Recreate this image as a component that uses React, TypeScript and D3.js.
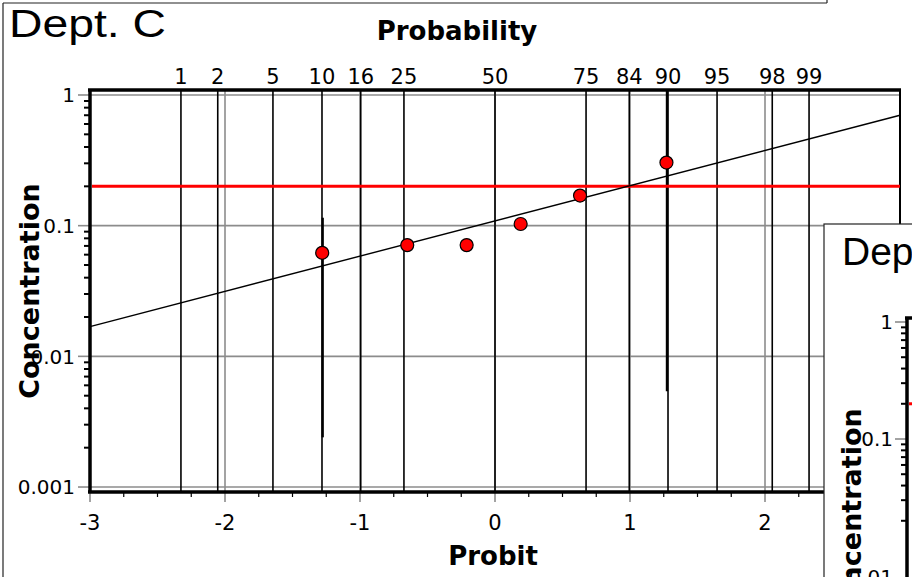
import * as d3 from 'd3';

// probability labels along the top (percent)
const probLabels = [1, 2, 5, 10, 16, 25, 50, 75, 84, 90, 95, 98, 99];
const probitTicks = [-3, -2, -1, 0, 1, 2];
const concTicks = [1, 0.1, 0.01, 0.001];
const concTickLabels = ['1', '0.1', '0.01', '0.001'];

// measured points (probit, concentration)
const pointProbit = [-1.28, -0.65, -0.21, 0.19, 0.63, 1.27];
const pointConc = [0.062, 0.071, 0.071, 0.103, 0.17, 0.304];

// fitted line end points
const fitProbit = [-3, 3];
const fitConc = [0.0169, 0.7];

// interval bars on the outer points
const barProbit = [-1.28, 1.27];
const barLow = [0.0024, 0.0054];
const barHigh = [0.115, 1.09];

const limitConc = 0.2;

// second (overlapping) panel
const panel2Ticks = [1, 0.1];
const panel2Labels = ['1', '0.1'];

const W = 912;
const H = 577;
const FONT = '"DejaVu Sans", Verdana, sans-serif';
const TITLE_FONT = '"Liberation Sans", Arial, sans-serif';

// inverse normal CDF (Acklam) for the probability axis
function probit(p: number) {
  const a = [-39.69683028665376, 220.9460984245205, -275.9285104469687, 138.357751867269, -30.66479806614716, 2.506628277459239];
  const b = [-54.47609879822406, 161.5858368580409, -155.6989798598866, 66.80131188771972, -13.28068155288572];
  const c = [-0.007784894002430293, -0.3223964580411365, -2.400758277161838, -2.549732539343734, 4.374664141464968, 2.938163982698783];
  const d = [0.007784695709041462, 0.3224671290700398, 2.445134137142996, 3.754408661907416];
  const pl = 0.02425;
  if (p < pl) {
    const q = Math.sqrt(-2 * Math.log(p));
    return (((((c[0] * q + c[1]) * q + c[2]) * q + c[3]) * q + c[4]) * q + c[5]) / ((((d[0] * q + d[1]) * q + d[2]) * q + d[3]) * q + 1);
  }
  if (p > 1 - pl) {
    const q = Math.sqrt(-2 * Math.log(1 - p));
    return -(((((c[0] * q + c[1]) * q + c[2]) * q + c[3]) * q + c[4]) * q + c[5]) / ((((d[0] * q + d[1]) * q + d[2]) * q + d[3]) * q + 1);
  }
  const q = p - 0.5;
  const r = q * q;
  return (((((a[0] * r + a[1]) * r + a[2]) * r + a[3]) * r + a[4]) * r + a[5]) * q / (((((b[0] * r + b[1]) * r + b[2]) * r + b[3]) * r + b[4]) * r + 1);
}

export default function App() {
  const left = 90, right = 900, top = 90, bottom = 492;
  const x = d3.scaleLinear().domain([-3, 3]).range([left, right]);
  const y = d3.scaleLog().domain([0.000916, 1.092]).range([bottom, top]);

  const minorY: number[] = [];
  [0.001, 0.01, 0.1].forEach(dec => {
    for (let k = 2; k <= 9; k++) minorY.push(dec * k);
  });
  const minorX = d3.range(-3, 3.001, 0.25).filter(v => Math.abs(v - Math.round(v)) > 0.01);

  const fitLine = d3.line<number>()
    .x((_, i) => x(fitProbit[i]))
    .y(d => y(d));

  // panel 2 scale
  const y2 = d3.scaleLog().domain([0.1, 1]).range([439, 322]);
  const minorY2: number[] = [];
  [0.01, 0.1].forEach(dec => {
    for (let k = 2; k <= 9; k++) minorY2.push(dec * k);
  });

  return (
    <svg width={W} height={H} style={{ position: 'absolute', left: 0, top: 0, background: '#fff' }}>
      <rect x={0} y={0} width={W} height={H} fill="#fff" />
      {/* outer frame */}
      <line x1={3} y1={3} x2={827} y2={3} stroke="#222" strokeWidth={1.2} />
      <line x1={3} y1={3} x2={3} y2={H} stroke="#222" strokeWidth={1.2} />
      <line x1={827} y1={0} x2={827} y2={3} stroke="#222" strokeWidth={1.2} />

      <text x={9} y={37} fontFamily={TITLE_FONT} fontSize={39} textLength={157} lengthAdjust="spacingAndGlyphs" fill="#000">Dept. C</text>
      <text x={457} y={40} textAnchor="middle" fontFamily={FONT} fontSize={26} fontWeight="bold" fill="#000">Probability</text>

      {/* gray grid */}
      {concTicks.map(v => (
        <line key={'gy' + v} x1={left} x2={right} y1={y(v)} y2={y(v)} stroke="#8c8c8c" strokeWidth={1.6} />
      ))}
      {probitTicks.concat([3]).map(v => (
        <line key={'gx' + v} x1={x(v)} x2={x(v)} y1={top} y2={bottom} stroke="#8c8c8c" strokeWidth={1.6} />
      ))}

      {/* probability lines */}
      {probLabels.map(p => (
        <line key={'pl' + p} x1={x(probit(p / 100))} x2={x(probit(p / 100))} y1={top} y2={bottom} stroke="#000" strokeWidth={1.6} />
      ))}
      {probLabels.map(p => (
        <text key={'pt' + p} x={x(probit(p / 100))} y={84} textAnchor="middle" fontFamily={FONT} fontSize={21} fill="#000">{p}</text>
      ))}

      {/* interval bars */}
      {barProbit.map((v, i) => (
        <line key={'bar' + i} x1={x(v) + 0.5} x2={x(v) + 0.5} y1={y(barHigh[i])} y2={y(barLow[i])} stroke="#000" strokeWidth={2.3} />
      ))}

      {/* y axis ticks */}
      {concTicks.map(v => (
        <line key={'ty' + v} x1={78} x2={left} y1={y(v)} y2={y(v)} stroke="#8c8c8c" strokeWidth={1.6} />
      ))}
      {minorY.map(v => (
        <line key={'my' + v} x1={84} x2={left} y1={y(v)} y2={y(v)} stroke="#000" strokeWidth={2} />
      ))}
      {concTicks.map((v, i) => (
        <text key={'ly' + v} x={75} y={y(v)} dy="0.36em" textAnchor="end" fontFamily={FONT} fontSize={20} fill="#000">{concTickLabels[i]}</text>
      ))}

      {/* x axis ticks */}
      {probitTicks.concat([3]).map(v => (
        <line key={'tx' + v} x1={x(v)} x2={x(v)} y1={bottom} y2={502} stroke="#8c8c8c" strokeWidth={1.6} />
      ))}
      {minorX.map(v => (
        <line key={'mx' + v} x1={x(v)} x2={x(v)} y1={bottom} y2={497} stroke="#000" strokeWidth={1.2} />
      ))}
      {probitTicks.map(v => (
        <text key={'lx' + v} x={x(v)} y={530} textAnchor="middle" fontFamily={FONT} fontSize={21} fill="#000">{v < 0 ? '-' + Math.abs(v) : v}</text>
      ))}

      {/* frame */}
      <line x1={left - 2} x2={right + 1} y1={top} y2={top} stroke="#000" strokeWidth={3.5} />
      <line x1={left} x2={left} y1={top} y2={bottom} stroke="#000" strokeWidth={3.5} />
      <line x1={left - 2} x2={right + 1} y1={bottom} y2={bottom} stroke="#000" strokeWidth={3.5} />
      <line x1={right} x2={right} y1={top} y2={bottom} stroke="#000" strokeWidth={2} />

      {/* limit line */}
      <line x1={left + 2} x2={right} y1={y(limitConc)} y2={y(limitConc)} stroke="#ff0000" strokeWidth={3} />

      {/* fit line */}
      <path d={fitLine(fitConc) || ''} fill="none" stroke="#000" strokeWidth={1.4} />

      {/* points */}
      {pointProbit.map((v, i) => (
        <circle key={'pt' + i} cx={x(v)} cy={y(pointConc[i])} r={6.5} fill="#ff0000" stroke="#000" strokeWidth={1.2} />
      ))}

      <text transform={`translate(39,291) rotate(-90)`} textAnchor="middle" fontFamily={FONT} fontSize={27} fontWeight="bold" fill="#000">Concentration</text>
      <text x={493} y={565} textAnchor="middle" fontFamily={FONT} fontSize={26} fontWeight="bold" fill="#000">Probit</text>

      {/* overlapping second panel */}
      <rect x={824} y={224} width={W} height={H} fill="#fff" stroke="#222" strokeWidth={1.2} />
      <text x={842} y={265} fontFamily={TITLE_FONT} fontSize={39} fill="#000">Dep</text>
      {panel2Ticks.map(v => (
        <line key={'t2' + v} x1={895} x2={907} y1={y2(v)} y2={y2(v)} stroke="#8c8c8c" strokeWidth={1.6} />
      ))}
      {minorY2.map(v => (
        <line key={'m2' + v} x1={901} x2={907} y1={y2(v)} y2={y2(v)} stroke="#000" strokeWidth={2} />
      ))}
      {panel2Ticks.map((v, i) => (
        <text key={'l2' + v} x={893} y={y2(v)} dy="0.36em" textAnchor="end" fontFamily={FONT} fontSize={20} fill="#000">{panel2Labels[i]}</text>
      ))}
      <line x1={907} x2={907} y1={318} y2={H} stroke="#000" strokeWidth={3.5} />
      <line x1={905} x2={W} y1={318} y2={318} stroke="#000" strokeWidth={3.5} />
      <line x1={909} x2={W} y1={y2(limitConc)} y2={y2(limitConc)} stroke="#ff0000" strokeWidth={3} />
      <text transform={`translate(861,516) rotate(-90)`} textAnchor="middle" fontFamily={FONT} fontSize={27} fontWeight="bold" fill="#000">Concentration</text>
      <text x={893} y={584} textAnchor="end" fontFamily={FONT} fontSize={20} fill="#000">0.01</text>
    </svg>
  );
}
